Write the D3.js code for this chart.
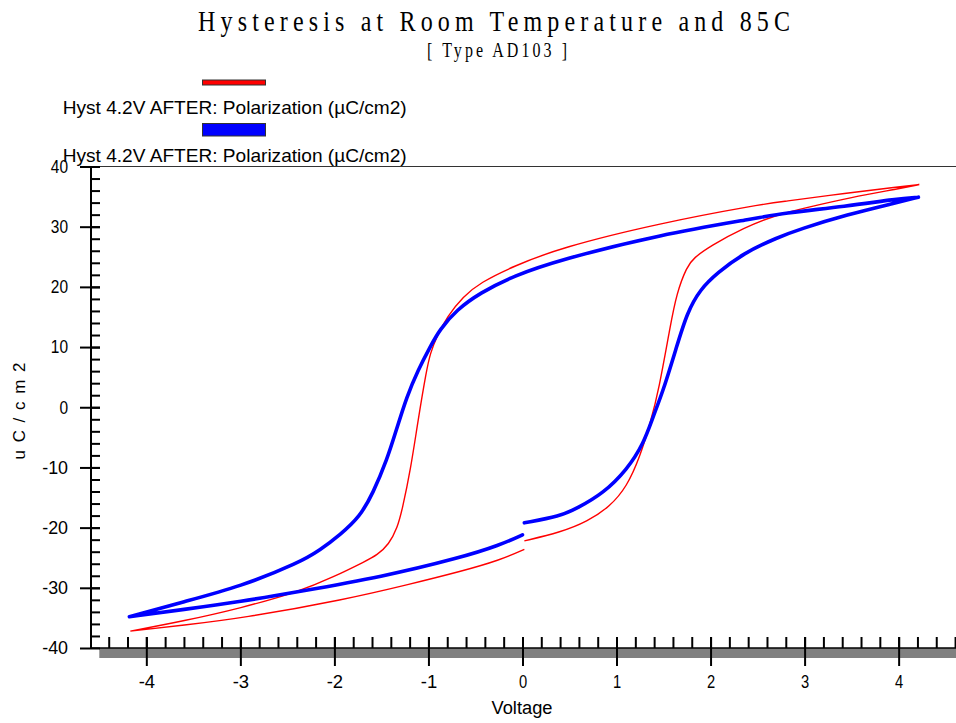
<!DOCTYPE html>
<html>
<head>
<meta charset="utf-8">
<script src="https://cdn.jsdelivr.net/npm/d3@7/dist/d3.min.js"></script>
<style>
body { margin: 0; background: #fff; }
text { font-family: "Liberation Sans", Arial, sans-serif; fill: #000; }
</style>
</head>
<body>
<svg id="chart" width="956" height="723"></svg>
<script>
var titleText = "Hysteresis at Room Temperature and 85C";
var subtitleText = "[ Type AD103 ]";
var seriesNames = ["Hyst 4.2V AFTER: Polarization (\u00b5C/cm2)", "Hyst 4.2V AFTER: Polarization (\u00b5C/cm2)"];
var seriesColors = ["#ff0000", "#0000ff"];
var voltageTicks = [-4, -3, -2, -1, 0, 1, 2, 3, 4];
var polTicks = [-40, -30, -20, -10, 0, 10, 20, 30, 40];

// red loop, starts at 0V going up to +4.2V, back down to -4.2V and back to 0V
var redV = [0.02, 0.40, 0.69, 0.93, 1.11, 1.25, 1.36, 1.45, 1.57, 1.64, 1.75, 1.82, 2.00, 2.35, 2.71, 3.00, 3.50, 4.00, 4.22,
	4.00, 3.45, 2.74, 2.53, 1.46, 0.40, -0.10, -0.45, -0.63, -0.80, -0.91, -0.98, -1.02, -1.11, -1.19, -1.28, -1.33, -1.42, -1.55, -1.66, -2.01, -2.37, -3.00, -3.60, -4.17,
	-3.60, -3.00, -1.87, -1.20, -0.66, -0.24, 0.02];
var redP = [-22.2, -20.8, -19.0, -16.5, -13.2, -8.2, -2.6, 2.9, 13.4, 19.0, 23.4, 24.8, 26.8, 29.8, 32.0, 33.1, 34.9, 36.3, 37.0,
	36.6, 35.6, 34.1, 33.7, 30.6, 26.5, 23.4, 20.7, 18.4, 15.1, 11.8, 9.0, 6.2, -2.1, -10.4, -17.1, -20.0, -22.8, -24.6, -25.5, -28.2, -30.6, -33.4, -35.5, -37.2,
	-36.2, -35.1, -31.9, -29.4, -27.3, -25.4, -23.6];

// blue loop, same order
var blueV = [0.02, 0.40, 0.58, 0.86, 1.11, 1.29, 1.39, 1.50, 1.64, 1.75, 1.89, 2.07, 2.35, 2.71, 2.95, 3.45, 3.98, 4.21,
	3.98, 3.45, 2.74, 2.53, 1.46, 0.40, -0.10, -0.45, -0.70, -0.88, -0.98, -1.11, -1.23, -1.34, -1.44, -1.59, -1.73, -1.94, -2.15, -2.37, -3.00, -3.60, -4.18,
	-3.60, -3.00, -2.37, -1.50, -0.66, -0.24, 0.00];
var blueP = [-19.2, -18.1, -16.8, -14.3, -10.4, -6.0, -1.5, 2.9, 10.1, 15.7, 19.6, 22.3, 25.6, 28.2, 29.6, 32.0, 34.0, 34.9,
	34.6, 33.4, 32.2, 31.5, 28.7, 24.5, 21.8, 19.0, 16.2, 12.9, 10.1, 6.2, 1.8, -3.7, -8.7, -14.3, -18.2, -21.2, -23.7, -25.8, -29.8, -32.3, -34.8,
	-33.6, -32.3, -30.6, -28.2, -25.0, -22.9, -21.2];

var svg = d3.select("#chart");
var x = d3.scaleLinear().domain([-4.5, 4.61]).range([99.3, 956]);
var y = d3.scaleLinear().domain([-40, 40]).range([648, 166.5]);
var axisX = 91;

// titles (condensed serif with wide spacing)
svg.append("g")
	.attr("transform", "translate(494,31) scale(0.8,1)")
	.append("text")
	.attr("text-anchor", "middle")
	.attr("textLength", 592 / 0.8)
	.attr("lengthAdjust", "spacing")
	.style("font-family", "'Liberation Serif', 'Times New Roman', serif")
	.style("font-size", "30px")
	.text(titleText);
svg.append("g")
	.attr("transform", "translate(497,57) scale(0.8,1)")
	.append("text")
	.attr("text-anchor", "middle")
	.attr("textLength", 140 / 0.8)
	.attr("lengthAdjust", "spacing")
	.style("font-family", "'Liberation Serif', 'Times New Roman', serif")
	.style("font-size", "20px")
	.text(subtitleText);

// legend
var legendRows = [{ y: 80, h: 5, ty: 113.5 }, { y: 123.5, h: 12.5, ty: 161.5 }];
legendRows.forEach(function (r, i) {
	svg.append("rect")
		.attr("x", 202.5).attr("y", r.y)
		.attr("width", 63).attr("height", r.h)
		.attr("fill", seriesColors[i])
		.attr("stroke", "#333").attr("stroke-width", 1);
	svg.append("text")
		.attr("x", 62.7).attr("y", r.ty)
		.attr("textLength", 344)
		.attr("lengthAdjust", "spacingAndGlyphs")
		.style("font-size", "19px")
		.text(seriesNames[i]);
});

// frame top line
svg.append("line")
	.attr("x1", axisX).attr("x2", 956)
	.attr("y1", y(40)).attr("y2", y(40))
	.attr("stroke", "#333").attr("stroke-width", 1.2);

// gray band under the x axis
svg.append("rect")
	.attr("x", x(-4.5)).attr("y", y(-40))
	.attr("width", 956 - x(-4.5)).attr("height", 10)
	.attr("fill", "#808080");

// x axis minor ticks
var minorX = d3.range(-22, 24).map(function (i) { return i / 5; });
svg.append("g")
	.attr("transform", "translate(0," + y(-40) + ")")
	.call(d3.axisTop(x).tickValues(minorX).tickSize(11).tickFormat(""))
	.call(function (g) { g.select(".domain").remove(); })
	.selectAll("line").attr("stroke", "#000").attr("stroke-width", 2);

// x axis major ticks + labels
var gx = svg.append("g")
	.attr("transform", "translate(0," + y(-40) + ")")
	.call(d3.axisBottom(x).tickValues(voltageTicks).tickSize(18).tickFormat(function (d) { return d < 0 ? "-" + Math.abs(d) : d; }))
	.call(function (g) { g.select(".domain").remove(); });
gx.selectAll("line").attr("y1", -11).attr("stroke", "#000").attr("stroke-width", 2);
gx.selectAll("text")
	.attr("y", 40).attr("dy", null)
	.style("font-size", "18px")
	.each(function () {
		var t = d3.select(this);
		t.attr("textLength", t.text().length * 8.2).attr("lengthAdjust", "spacingAndGlyphs");
	});

svg.append("line")
	.attr("x1", axisX).attr("x2", 956)
	.attr("y1", y(-40)).attr("y2", y(-40))
	.attr("stroke", "#000").attr("stroke-width", 1.5);

// y axis minor ticks
var minorY = d3.range(-19, 20).map(function (i) { return i * 2; });
svg.append("g")
	.attr("transform", "translate(" + axisX + ",0)")
	.call(d3.axisRight(y).tickValues(minorY).tickSize(9).tickFormat(""))
	.call(function (g) { g.select(".domain").remove(); })
	.selectAll("line").attr("stroke", "#000").attr("stroke-width", 2);

// y axis major ticks + labels
var gy = svg.append("g")
	.attr("transform", "translate(" + axisX + ",0)")
	.call(d3.axisLeft(y).tickValues(polTicks).tickSize(11).tickFormat(function (d) { return d < 0 ? "-" + Math.abs(d) : d; }))
	.call(function (g) { g.select(".domain").remove(); });
gy.selectAll("line").attr("x1", 9).attr("stroke", "#000").attr("stroke-width", 2);
gy.selectAll("text")
	.attr("x", -23)
	.style("font-size", "18px")
	.each(function () {
		var t = d3.select(this);
		t.attr("textLength", t.text().length * 8.6).attr("lengthAdjust", "spacingAndGlyphs");
	});

svg.append("line")
	.attr("x1", axisX).attr("x2", axisX)
	.attr("y1", y(40)).attr("y2", y(-40))
	.attr("stroke", "#000").attr("stroke-width", 2);

// axis titles
svg.append("text")
	.attr("x", 522).attr("y", 714)
	.attr("text-anchor", "middle")
	.attr("textLength", 61)
	.attr("lengthAdjust", "spacingAndGlyphs")
	.style("font-size", "18px")
	.text("Voltage");
svg.append("text")
	.attr("transform", "translate(25,411) rotate(-90)")
	.attr("text-anchor", "middle")
	.attr("textLength", 97)
	.attr("lengthAdjust", "spacing")
	.style("font-size", "17px")
	.text("u C / c m 2");

// loops: split each sweep at its turning points and smooth every branch
var line = d3.line()
	.x(function (d) { return x(d[0]); })
	.y(function (d) { return y(d[1]); })
	.curve(d3.curveBasis);

function loopPath(pts) {
	var iMax = d3.maxIndex(pts, function (d) { return d[0]; });
	var iMin = d3.minIndex(pts, function (d) { return d[0]; });
	return line(pts.slice(0, iMax + 1)) + line(pts.slice(iMax, iMin + 1)) + line(pts.slice(iMin));
}

svg.append("path")
	.attr("d", loopPath(d3.zip(redV, redP)))
	.attr("fill", "none")
	.attr("stroke", seriesColors[0])
	.attr("stroke-width", 1.4);
svg.append("path")
	.attr("d", loopPath(d3.zip(blueV, blueP)))
	.attr("fill", "none")
	.attr("stroke", seriesColors[1])
	.attr("stroke-width", 3.6)
	.attr("stroke-linecap", "round");
</script>
</body>
</html>
